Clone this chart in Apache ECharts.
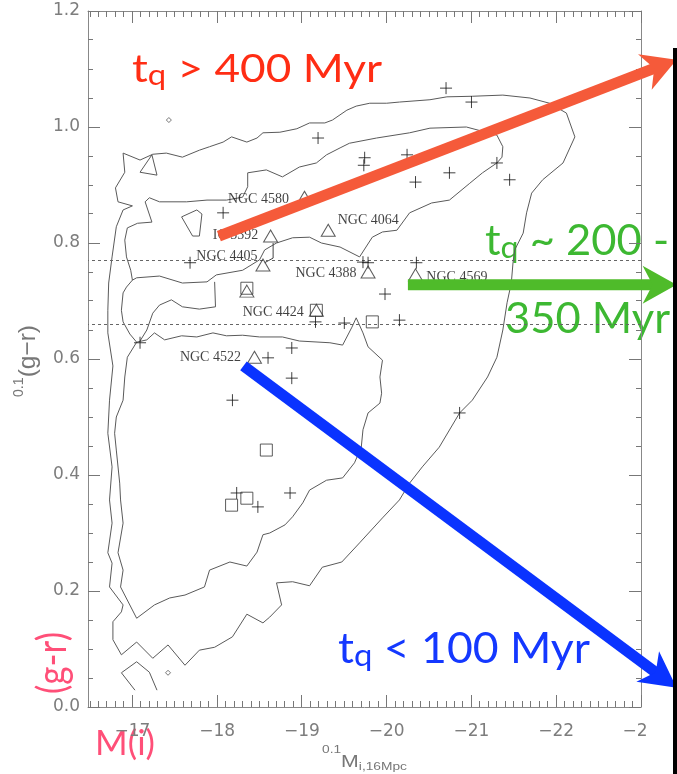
<!DOCTYPE html>
<html>
<head>
<meta charset="utf-8">
<title>Quenching timescales in colour-magnitude space</title>
<script src="https://cdn.jsdelivr.net/npm/echarts@6.0.0/dist/echarts.min.js"></script>
<style>
html,body{margin:0;padding:0;background:#fff;}
#chart{width:677px;height:774px;}
</style>
</head>
<body>
<div id="chart"></div>
<script>
// ---------------- data ----------------
const xTickValues = [-17, -18, -19, -20, -21, -22, -23];
const xTickLabels = ['−17', '−18', '−19', '−20', '−21', '−22', '−2'];
const yTickValues = [0, 0.2, 0.4, 0.6, 0.8, 1.0, 1.2];
const guideLevels = [0.771, 0.656];

const contourOuter = [
[-16.89,0.955],[-17.09,0.943],[-17.24,0.953],[-17.40,0.955],[-17.59,0.948],[-17.79,0.960],[-17.91,0.966],[-18.07,0.974],[-18.17,0.983],[-18.35,0.974],[-18.47,0.981],[-18.54,0.990],[-18.74,0.991],[-18.94,0.997],[-19.09,1.007],[-19.27,1.007],[-19.36,1.012],[-19.53,1.029],[-19.64,1.036],[-19.80,1.041],[-20.00,1.041],[-20.15,1.043],[-20.51,1.047],[-20.71,1.052],[-21.01,1.053],[-21.37,1.055],[-21.69,1.050],[-21.92,1.041],[-22.12,1.024],[-22.22,0.983],[-22.08,0.938],[-21.84,0.909],[-21.71,0.886],[-21.65,0.852],[-21.61,0.817],[-21.51,0.788],[-21.49,0.766],[-21.47,0.731],[-21.42,0.697],[-21.37,0.650],[-21.30,0.603],[-21.19,0.569],[-21.01,0.529],[-20.86,0.507],[-20.62,0.448],[-20.42,0.414],[-20.27,0.386],[-20.15,0.357],[-19.95,0.326],[-19.68,0.283],[-19.47,0.250],[-19.24,0.241],[-19.09,0.209],[-18.89,0.216],[-18.70,0.214],[-18.76,0.176],[-18.62,0.155],[-18.54,0.145],[-18.35,0.160],[-18.18,0.121],[-17.97,0.103],[-17.79,0.098],[-17.62,0.072],[-17.42,0.107],[-17.24,0.084],[-17.05,0.112],[-16.87,0.090],[-16.77,0.116],[-16.77,0.147],[-16.87,0.164],[-16.89,0.176],[-16.73,0.207],[-16.76,0.248],[-16.71,0.266],[-16.76,0.317],[-16.73,0.357],[-16.76,0.414],[-16.71,0.472],[-16.73,0.529],[-16.77,0.588],[-16.71,0.645],[-16.71,0.684],[-16.72,0.731],[-16.76,0.776],[-16.81,0.828],[-16.89,0.857],[-17.00,0.864],[-16.83,0.871],[-16.80,0.895],[-16.91,0.922],[-16.89,0.955]
];
const contourSmallLoop = [[-17.09,0.922],[-17.23,0.952],[-17.29,0.917],[-17.09,0.922]];
const contourRedBand = [
[-17.20,0.878],[-17.32,0.871],[-17.64,0.871],[-17.88,0.874],[-18.11,0.874],[-18.30,0.879],[-18.36,0.897],[-18.36,0.921],[-18.58,0.926],[-18.77,0.914],[-18.97,0.931],[-19.17,0.938],[-19.29,0.952],[-19.45,0.964],[-19.56,0.972],[-19.88,0.981],[-20.27,0.990],[-20.51,0.998],[-20.94,1.000],[-21.30,0.986],[-21.37,0.966],[-21.36,0.948],[-21.30,0.938],[-21.13,0.921],[-20.98,0.903],[-20.74,0.874],[-20.53,0.869],[-20.27,0.852],[-20.12,0.822],[-19.95,0.819],[-19.83,0.810],[-19.68,0.776],[-19.45,0.793],[-19.23,0.800],[-19.09,0.810],[-18.89,0.809],[-18.70,0.800],[-18.56,0.788],[-18.50,0.771],[-18.30,0.753],[-17.99,0.745],[-17.88,0.733],[-17.59,0.731],[-17.32,0.743],[-17.05,0.740],[-17.00,0.736],[-16.98,0.753],[-16.93,0.776],[-16.91,0.805],[-16.94,0.826],[-17.06,0.834],[-17.23,0.836],[-17.15,0.871],[-17.20,0.878]
];
const contourBlueCloud = [
[-17.00,0.736],[-16.93,0.724],[-16.89,0.714],[-16.87,0.684],[-16.89,0.664],[-16.97,0.643],[-17.05,0.629],[-16.94,0.603],[-16.91,0.569],[-16.89,0.529],[-16.81,0.500],[-16.79,0.472],[-16.81,0.443],[-16.85,0.386],[-16.86,0.357],[-16.89,0.317],[-16.83,0.266],[-16.89,0.236],[-16.86,0.207],[-17.05,0.153],[-17.26,0.176],[-17.44,0.188],[-17.62,0.193],[-17.85,0.207],[-17.91,0.236],[-18.15,0.250],[-18.35,0.243],[-18.47,0.267],[-18.54,0.297],[-18.62,0.300],[-18.80,0.314],[-18.89,0.328],[-19.01,0.352],[-19.09,0.374],[-19.29,0.391],[-19.48,0.395],[-19.62,0.421],[-19.70,0.448],[-19.72,0.478],[-19.78,0.507],[-19.92,0.524],[-19.94,0.541],[-19.92,0.569],[-19.95,0.598],[-19.78,0.621],[-19.72,0.645],[-19.64,0.671],[-19.59,0.655],[-19.48,0.624],[-19.33,0.628],[-18.97,0.631],[-18.77,0.638],[-18.50,0.638],[-18.30,0.641],[-18.11,0.640],[-17.95,0.645],[-17.76,0.638],[-17.58,0.640],[-17.38,0.633],[-17.26,0.645],[-17.17,0.633],[-17.05,0.629]
];
const contourValleyInner = [[-17.97,0.733],[-17.98,0.690],[-17.79,0.686],[-17.59,0.690],[-17.46,0.702],[-17.32,0.693],[-17.24,0.679],[-17.17,0.650],[-17.09,0.631]];
const contourPentagon = [[-17.58,0.845],[-17.76,0.857],[-17.82,0.850],[-17.79,0.812],[-17.71,0.812],[-17.58,0.845]];
const contourBottomHook = [[-17.03,0.029],[-16.87,0.059],[-17.05,0.078],[-17.20,0.060],[-17.29,0.029]];
const isolatedDots = [[-17.42,0.059],[-17.43,1.012]];

const plusM = [-19.19,-20.70,-21.00,-19.74,-19.73,-20.24,-20.34,-20.74,-21.30,-21.45,-18.07,-17.68,-19.72,-19.78,-20.35,-19.98,-19.50,-20.15,-20.86,-19.16,-17.09,-18.60,-18.88,-18.88,-18.18,-18.86,-18.23,-18.48];
const plusColour = [0.981,1.067,1.043,0.947,0.934,0.952,0.905,0.921,0.938,0.909,0.852,0.766,0.767,0.766,0.766,0.712,0.662,0.667,0.507,0.664,0.628,0.602,0.619,0.567,0.529,0.369,0.369,0.345];

const triangleNames = ['NGC 4580','IC 3392','NGC 4064','NGC 4405','NGC 4388','NGC 4569','NGC 4424','NGC 4522',''];
const triangleM = [-19.03,-18.63,-19.31,-18.54,-19.78,-20.34,-19.17,-18.44,-18.35];
const triangleColour = [0.879,0.812,0.822,0.762,0.750,0.745,0.684,0.603,0.717];

const squareM = [-18.35,-19.17,-19.83,-18.58,-18.35,-18.17];
const squareColour = [0.722,0.684,0.664,0.443,0.360,0.348];

const trackIC3392 = [[-18.66,0.800],[-18.66,0.774],[-18.56,0.766]];

const arrowRed = [[-18.02,0.812],[-23.42,1.116]];
const arrowGreen = [[-20.25,0.728],[-23.42,0.728]];
const arrowBlue = [[-18.31,0.588],[-23.42,0.033]];

// ---------------- styling / layout ----------------
const labelLayout = {
  'NGC 4580': ['left', -8, 2],
  'IC 3392': ['left', -4.7, -1],
  'NGC 4064': ['right', 2, -10],
  'NGC 4405': ['left', 2, -9],
  'NGC 4388': ['left', -4, 1],
  'NGC 4569': ['right', 3.3, 2],
  'NGC 4424': ['left', -5, 2],
  'NGC 4522': ['left', -6, 0]
};

const xMinor = [];
for (let k = 165; k <= 230; k++) { if (k % 10 !== 0) xMinor.push(-k / 10); }
const yMinor = [];
for (let k = 1; k < 24; k++) { if (k % 4 !== 0) yMinor.push(k * 0.05); }

const AX = '#888';
const TK = '#777';
const LBL = '#7d7d7d';
const LABEL_FONT = '"DejaVu Sans"';

function xAxisDef(pos, labels) {
  return {
    type: 'value', position: pos, min: -23, max: -16.476, inverse: true,
    axisLine: { show: true, onZero: false, lineStyle: { color: AX, width: 1 } },
    axisTick: { show: false },
    axisLabel: labels ? {
      show: true, customValues: xTickValues, margin: 16,
      color: LBL, fontSize: 17, fontFamily: LABEL_FONT,
      formatter: v => {
        const i = xTickValues.indexOf(Math.round(v));
        if (i < 0) return '';
        return i === xTickValues.length - 1 ? '{cut|' + xTickLabels[i] + '}' : xTickLabels[i];
      },
      rich: { cut: { color: LBL, fontSize: 17, fontFamily: LABEL_FONT, padding: [0, 12, 0, 0] } }
    } : { show: false },
    splitLine: { show: false }, minorTick: { show: false }
  };
}
function yAxisDef(pos, labels) {
  return {
    type: 'value', position: pos, min: 0, max: 1.2, interval: 0.2,
    axisLine: { show: true, onZero: false, lineStyle: { color: AX, width: 1 } },
    axisTick: { show: false }, minorTick: { show: false },
    axisLabel: labels ? { show: true, margin: 8, color: LBL, fontSize: 17, fontFamily: LABEL_FONT, formatter: v => v.toFixed(1) } : { show: false },
    splitLine: { show: false }
  };
}
function contour(data, extra) {
  return Object.assign({
    type: 'line', data: data, symbol: 'none', showSymbol: false, silent: true,
    lineStyle: { color: '#5a5a5a', width: 1 }, z: 2, animation: false
  }, extra || {});
}

const chart = echarts.init(document.getElementById('chart'), null, { renderer: 'canvas', width: 677, height: 774 });

const option = {
  animation: false,
  backgroundColor: '#fff',
  grid: { left: 88, top: 11, width: 553, height: 696, containLabel: false, outerBoundsMode: 'none' },
  xAxis: [xAxisDef('bottom', true), xAxisDef('top', false)],
  yAxis: [yAxisDef('left', true), yAxisDef('right', false)],
  series: [
    contour(contourOuter, {
      markLine: {
        silent: true, symbol: ['none', 'none'], label: { show: false }, animation: false,
        lineStyle: { type: [3, 3], color: '#666', width: 1 },
        data: guideLevels.map(v => ({ yAxis: v }))
      }
    }),
    contour(contourSmallLoop),
    contour(contourRedBand),
    contour(contourBlueCloud),
    contour(contourValleyInner),
    contour(contourPentagon),
    contour(contourBottomHook),
    {
      type: 'scatter', data: isolatedDots, symbol: 'diamond', symbolSize: [5, 5], silent: true,
      itemStyle: { color: 'rgba(0,0,0,0)', borderColor: '#555', borderWidth: 1 }, z: 3
    },
    contour(trackIC3392, { lineStyle: { color: '#444', width: 1 }, z: 4 }),
    {
      type: 'scatter', silent: true, z: 5,
      data: plusM.map((m, i) => [m, plusColour[i]]),
      symbol: 'path://M0,6L12,6M6,0L6,12', symbolSize: 12,
      itemStyle: { color: 'rgba(0,0,0,0)', borderColor: '#111', borderWidth: 1 }
    },
    {
      type: 'scatter', silent: true, z: 5,
      data: squareM.map((m, i) => [m, squareColour[i]]),
      symbol: 'rect', symbolSize: 12,
      itemStyle: { color: 'rgba(0,0,0,0)', borderColor: '#333', borderWidth: 1 }
    },
    {
      type: 'scatter', silent: true, z: 6,
      symbol: 'triangle', symbolSize: [14, 12],
      itemStyle: { color: 'rgba(0,0,0,0)', borderColor: '#333', borderWidth: 1 },
      data: triangleM.map((m, i) => {
        const name = triangleNames[i];
        const lay = labelLayout[name];
        return {
          value: [m, triangleColour[i]], name: name,
          label: lay ? {
            show: true, formatter: '{b}', position: lay[0], distance: 0, offset: [lay[1], lay[2]],
            color: '#111', fontSize: 14, fontFamily: '"Liberation Serif"'
          } : { show: false }
        };
      })
    }
  ]
};
chart.setOption(option);

// ---------------- ticks, arrows and texts ----------------
const P = d => chart.convertToPixel({ xAxisIndex: 0, yAxisIndex: 0 }, d);
const crisp = v => Math.round(v - 0.5) + 0.5;

function tickLines() {
  const out = [];
  const yBottom = P([-20, 0])[1], yTop = P([-20, 1.2])[1];
  const xLeft = P([-16.476, 0.5])[0], xRight = P([-23, 0.5])[0];
  const add = (x1, y1, x2, y2) => out.push({ type: 'line', silent: true, z: 50,
    shape: { x1: x1, y1: y1, x2: x2, y2: y2 }, style: { stroke: TK, lineWidth: 1 } });
  xTickValues.forEach(v => { const x = crisp(P([v, 0.5])[0]); add(x, yBottom, x, yBottom - 12); add(x, yTop, x, yTop + 12); });
  xMinor.forEach(v => { const x = crisp(P([v, 0.5])[0]); add(x, yBottom, x, yBottom - 6); add(x, yTop, x, yTop + 6); });
  yTickValues.forEach(v => { const y = crisp(P([-20, v])[1]); add(xLeft, y, xLeft + 12, y); add(xRight, y, xRight - 12, y); });
  yMinor.forEach(v => { const y = crisp(P([-20, v])[1]); add(xLeft, y, xLeft + 5, y); add(xRight, y, xRight - 5, y); });
  return out;
}

const mctx = document.createElement('canvas').getContext('2d');
function midToBase(size, fam) {
  mctx.font = size + 'px ' + fam; mctx.textBaseline = 'middle';
  const m = mctx.measureText('H');
  mctx.textBaseline = 'alphabetic';
  return m.actualBoundingBoxDescent;
}
function composite(o) {
  const sp = o.scalePerp || 1;
  let cur = 0; const kids = [];
  o.parts.forEach(p => {
    const t = p[0], s = p[1], shift = p[2] || 0;
    mctx.font = s + 'px ' + o.family;
    const w = mctx.measureText(t).width;
    kids.push({
      type: 'text', x: cur, y: shift / sp - midToBase(s, o.family), silent: true,
      style: { text: t, font: s + 'px ' + o.family, fill: o.color, align: 'left', verticalAlign: 'middle' }
    });
    cur += w;
  });
  const sx = o.scaleX || (o.target / cur);
  return { el: { type: 'group', x: o.x, y: o.y, rotation: o.rotation || 0, scaleX: sx, scaleY: sp, children: kids, z: 100 }, sx: sx };
}
function arrowShapes(d, color, width, headLen, notch, halfW) {
  const a = P(d[0]), b = P(d[1]);
  const dx = b[0] - a[0], dy = b[1] - a[1], L = Math.hypot(dx, dy);
  const ux = dx / L, uy = dy / L, nx = -uy, ny = ux, hw = width / 2;
  const nt = [b[0] - ux * (notch - 2), b[1] - uy * (notch - 2)];
  const nt2 = [b[0] - ux * notch, b[1] - uy * notch];
  const bs = [b[0] - ux * headLen, b[1] - uy * headLen];
  return [
    { type: 'polygon', silent: true, z: 90, style: { fill: color },
      shape: { points: [[a[0] + nx * hw, a[1] + ny * hw], [nt[0] + nx * hw, nt[1] + ny * hw], [nt[0] - nx * hw, nt[1] - ny * hw], [a[0] - nx * hw, a[1] - ny * hw]] } },
    { type: 'polygon', silent: true, z: 90, style: { fill: color },
      shape: { points: [b, [bs[0] + nx * halfW, bs[1] + ny * halfW], nt2, [bs[0] - nx * halfW, bs[1] - ny * halfW]] } }
  ];
}

const FAM = 'Lato';
const GREY = '"Liberation Sans"';
const redText = composite({ parts: [['t', 39], ['q', 29, 3], [' > 400 Myr', 39]], family: FAM, color: '#ff2d14', x: 132, y: 82, target: 250 });
const green2 = composite({ parts: [['350 Myr', 42]], family: FAM, color: '#3db832', x: 505, y: 333, target: 165 });
const green1 = composite({ parts: [['t', 42], ['q', 31, 3], [' ~ 200 -', 42]], family: FAM, color: '#3db832', x: 485, y: 255, scaleX: green2.sx });
const blueText = composite({ parts: [['t', 42], ['q', 31, 3], [' < 100 Myr', 42]], family: FAM, color: '#1438ff', x: 338, y: 663, target: 252 });
const pinkM = composite({ parts: [['M(i)', 34]], family: FAM, color: '#ff4f78', x: 95, y: 755, target: 60 });
const pinkGR = composite({ parts: [['(g-r)', 31]], family: FAM, color: '#ff4f78', x: 66, y: 694, target: 62, rotation: Math.PI / 2, scalePerp: 1.3 });
const yTitle = composite({ parts: [['0.1', 11, -12], ['(g−r)', 19]], family: GREY, color: '#777', x: 35, y: 397, target: 72, rotation: Math.PI / 2, scalePerp: 1.25 });
const xTitle = composite({ parts: [['0.1', 11, -14], ['M', 17], ['i,16Mpc', 11, 3]], family: GREY, color: '#777', x: 322, y: 767, target: 85 });

const graphics = []
  .concat(tickLines())
  .concat(arrowShapes(arrowRed, '#f55a3a', 11, 34, 24, 19))
  .concat(arrowShapes(arrowGreen, '#4fbb2a', 11, 34, 24, 19))
  .concat(arrowShapes(arrowBlue, '#0a33ff', 11, 36, 26, 19))
  .concat([redText.el, green1.el, green2.el, blueText.el, pinkM.el, pinkGR.el, yTitle.el, xTitle.el])
  .concat([{ type: 'rect', silent: true, z: 95, shape: { x: 673, y: 48, width: 4, height: 726 }, style: { fill: '#000' } }]);

chart.setOption({ graphic: { elements: graphics } });
</script>
</body>
</html>
